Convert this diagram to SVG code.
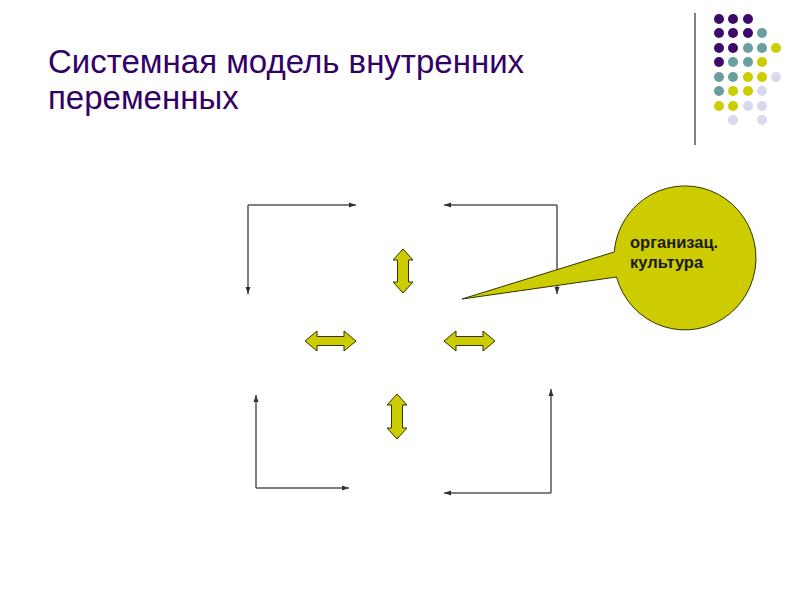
<svg xmlns="http://www.w3.org/2000/svg" width="800" height="600" viewBox="0 0 800 600">
<style>
.title{font-family:"Liberation Sans",Arial,sans-serif;font-size:33px;fill:#330066}
.lbl{font-family:"Liberation Sans",Arial,sans-serif;font-size:16.5px;font-weight:bold;fill:#1a1a1a}
.conn{fill:none;stroke:#555555;stroke-width:1.5}
.blk{fill:#cccc00;stroke:#333300;stroke-width:1}
.p{fill:#3d0a6b}.t{fill:#6b9e9e}.y{fill:#cccc00}.l{fill:#d8d8ee}
</style>
<defs>
<marker id="ah" markerWidth="8" markerHeight="8" refX="7" refY="4" orient="auto" markerUnits="userSpaceOnUse">
<path d="M0,1.5 L7,4 L0,6.5 Z" fill="#333"/>
</marker>
</defs>
<rect width="800" height="600" fill="#ffffff"/>
<g id="decor">
<line x1="695" y1="13" x2="695" y2="145" stroke="#808080" stroke-width="2"/>
<g>
<circle class="p" cx="719" cy="19" r="5"/><circle class="p" cx="733" cy="19" r="5"/><circle class="p" cx="748" cy="19" r="5"/>
<circle class="p" cx="719" cy="33" r="5"/><circle class="p" cx="733" cy="33" r="5"/><circle class="p" cx="748" cy="33" r="5"/><circle class="t" cx="762" cy="33" r="5"/>
<circle class="p" cx="719" cy="48" r="5"/><circle class="p" cx="733" cy="48" r="5"/><circle class="t" cx="748" cy="48" r="5"/><circle class="t" cx="762" cy="48" r="5"/><circle class="y" cx="776" cy="48" r="5"/>
<circle class="p" cx="719" cy="62" r="5"/><circle class="t" cx="733" cy="62" r="5"/><circle class="t" cx="748" cy="62" r="5"/><circle class="y" cx="762" cy="62" r="5"/>
<circle class="t" cx="719" cy="77" r="5"/><circle class="t" cx="733" cy="77" r="5"/><circle class="y" cx="748" cy="77" r="5"/><circle class="y" cx="762" cy="77" r="5"/><circle class="l" cx="776" cy="77" r="5"/>
<circle class="t" cx="719" cy="91" r="5"/><circle class="y" cx="733" cy="91" r="5"/><circle class="y" cx="748" cy="91" r="5"/><circle class="l" cx="762" cy="91" r="5"/>
<circle class="y" cx="719" cy="106" r="5"/><circle class="y" cx="733" cy="106" r="5"/><circle class="l" cx="748" cy="106" r="5"/><circle class="l" cx="762" cy="106" r="5"/>
<circle class="l" cx="733" cy="120" r="5"/><circle class="l" cx="762" cy="120" r="5"/>
</g>
</g>
<g id="title">
<text class="title" x="48" y="73">Системная модель внутренних</text>
<text class="title" x="48" y="109">переменных</text>
</g>
<g id="connectors">
<path class="conn" d="M248,205 H356" marker-end="url(#ah)"/>
<path class="conn" d="M248,205 V294" marker-end="url(#ah)"/>
<path class="conn" d="M557,205 H444" marker-end="url(#ah)"/>
<path class="conn" d="M557,205 V294" marker-end="url(#ah)"/>
<path class="conn" d="M256,488 V395" marker-end="url(#ah)"/>
<path class="conn" d="M256,488 H349" marker-end="url(#ah)"/>
<path class="conn" d="M551,493 V389" marker-end="url(#ah)"/>
<path class="conn" d="M551,493 H444" marker-end="url(#ah)"/>
</g>
<g id="arrow-top">
<path class="blk" d="M403,249 L413,260 L408.5,260 L408.5,282 L413,282 L403,293 L393,282 L397.5,282 L397.5,260 L393,260 Z"/>
</g>
<g id="arrow-left">
<path class="blk" d="M305,341 L317,331 L317,336.5 L344,336.5 L344,331 L356,341 L344,351 L344,345.5 L317,345.5 L317,351 Z"/>
</g>
<g id="arrow-right">
<path class="blk" d="M444,341 L456,331 L456,336.5 L483,336.5 L483,331 L495,341 L483,351 L483,345.5 L456,345.5 L456,351 Z"/>
</g>
<g id="arrow-bottom">
<path class="blk" d="M397,394 L407,405 L402.5,405 L402.5,428 L407,428 L397,439 L387,428 L391.5,428 L391.5,405 L387,405 Z"/>
</g>
<g id="callout">
<path class="blk" d="M614.2,252 A71,72 0 1 1 616.5,277 L462,299 Z"/>
<text class="lbl" x="630" y="248">организац.</text>
<text class="lbl" x="630" y="268">культура</text>
</g>
</svg>
